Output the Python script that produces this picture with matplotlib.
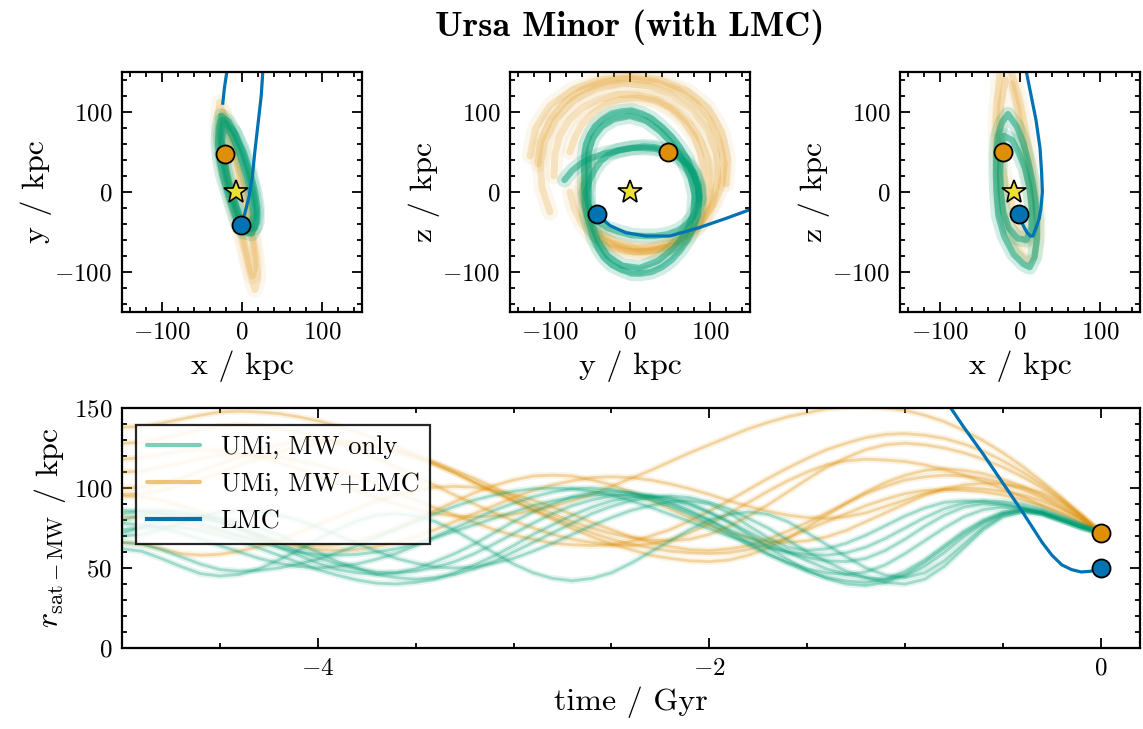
import numpy as np
import matplotlib
matplotlib.use('Agg')
import matplotlib.pyplot as plt
from matplotlib.ticker import MultipleLocator

plt.rcParams['font.family'] = 'serif'
plt.rcParams['font.serif'] = ['cmr10']
plt.rcParams['mathtext.fontset'] = 'cm'
plt.rcParams['axes.formatter.use_mathtext'] = True
plt.rcParams['axes.unicode_minus'] = True

C_MW = '#029e73'
C_LMC_RUN = '#de8f05'
C_LMC = '#0173b2'
C_SUN = '#ece133'

# ---- present-day positions (kpc) ----
umi_now = [-21, 47, 50]
lmc_now = [-1, -41, -28]
sun_pos = [-8.1, 0, 0]
umi_r_now = 72
lmc_r_now = 50

# ---- LMC past orbit (x, y, z) ----
lmc_x = [-1, 4, 9, 13, 16, 20, 24, 26, 28, 27, 25, 20, 14, 8, 3, -5, -12, -17, -19, -22, -24]
lmc_y = [-41, -25, -5, 20, 50, 85, 120, 150, 185, 215, 245, 275, 305, 335, 365, 400, 300, 200, 150, 130, 111]
lmc_z = [-28, -42, -51, -55, -55, -45, -33, -22, 0, 25, 55, 90, 120, 150, 180, 220, 240, 235, 225, 220, 215]

# ---- UMi orbit ensembles, x-y projection ----
xy_mw = [
    [(-26, 95), (-29, 80), (-30, 60), (-28, 40), (-24, 20), (-18, 0), (-12, -20), (-6, -38), (2, -50),
     (12, -52), (19, -38), (19, -18), (15, 5), (9, 28), (2, 50), (-8, 72), (-17, 88), (-26, 95)],
    [(-22, 85), (-25, 65), (-22, 40), (-17, 15), (-10, -10), (-2, -32), (8, -45), (15, -30), (12, -5),
     (6, 20), (-2, 45), (-12, 70), (-22, 85)],
    [(-24, 90), (-27, 70), (-25, 45), (-20, 20), (-13, -5), (-5, -30), (5, -47), (16, -45), (18, -25),
     (14, 0), (8, 25), (0, 50), (-10, 75), (-24, 90)],
]
xy_lmc = [
    [(-28, 112), (-30, 85), (-27, 55), (-22, 28), (-16, 3), (-9, -22), (-3, -47), (3, -72), (9, -97),
     (16, -122), (20, -108), (18, -82), (14, -57), (10, -32), (4, -7), (-3, 22), (-11, 52), (-19, 82), (-26, 105)],
    [(-24, 100), (-27, 75), (-24, 48), (-18, 22), (-11, -5), (-4, -32), (2, -58), (8, -85), (13, -105),
     (16, -92), (14, -68), (10, -42), (5, -15), (-1, 12), (-8, 42), (-15, 72), (-22, 96)],
]

# ---- y-z projection ----
yz_mw = [
    [(-57, 28), (-57, 45), (-55, 60), (-50, 72), (-44, 82), (-34, 91), (-23, 98), (-10, 101), (2, 102),
     (15, 98), (27, 92), (40, 81), (52, 69), (63, 55), (72, 40), (79, 24), (85, 7), (87, -10), (85, -27),
     (80, -44), (72, -60), (63, -73), (52, -85), (40, -94), (27, -100), (14, -102), (2, -102), (-11, -97),
     (-23, -91), (-33, -81), (-40, -70), (-46, -57), (-50, -43), (-54, -29), (-56, -14), (-57, 5), (-57, 28)],
    [(-55, -2), (-51, 14), (-44, 28), (-37, 38), (-28, 46), (-14, 52), (2, 55), (17, 57), (31, 56),
     (46, 52), (60, 46), (72, 35), (81, 23), (86, 8), (87, -6), (84, -19), (79, -31), (70, -41), (60, -48),
     (46, -53), (31, -55), (17, -55), (2, -54), (-13, -50), (-28, -45), (-38, -38), (-46, -29), (-52, -16),
     (-55, -2)],
    [(-52, 30), (-52, 50), (-46, 68), (-35, 82), (-20, 91), (0, 95), (20, 89), (38, 76), (53, 60),
     (66, 40), (76, 18), (81, -5), (79, -28), (70, -50), (55, -70), (35, -86), (12, -95), (-10, -92),
     (-28, -80), (-40, -62), (-48, -40), (-52, -15), (-52, 30)],
    [(-82, 15), (-72, 27), (-61, 36), (-47, 43), (-32, 48), (-15, 52), (2, 55), (17, 55), (31, 54),
     (47, 50), (62, 42), (73, 32), (80, 20), (85, 5), (86, -10)],
]
yz_lmc = [
    [(-115, 35), (-112, 62), (-100, 90), (-82, 112), (-60, 128), (-31, 138), (0, 142), (31, 138),
     (60, 128), (83, 111), (100, 90), (112, 63), (118, 35), (115, 10), (105, -15), (90, -37), (70, -55),
     (46, -68), (20, -75), (-6, -74), (-30, -68), (-47, -56), (-60, -40), (-70, -20), (-75, 0)],
    [(-95, 20), (-94, 46), (-88, 70), (-76, 90), (-60, 105), (-38, 116), (-15, 122), (10, 121), (35, 115),
     (57, 102), (75, 85), (89, 63), (98, 40), (101, 17), (100, -5), (94, -26), (85, -45), (69, -59),
     (50, -68), (28, -74), (5, -75), (-16, -69), (-35, -60), (-47, -46), (-55, -30), (-59, -12), (-60, 5),
     (-57, 23), (-52, 40)],
    [(-75, 50), (-69, 68), (-60, 85), (-46, 99), (-30, 110), (-10, 116), (10, 118), (31, 114), (50, 105),
     (67, 89), (80, 70), (88, 48), (92, 25), (92, 2), (88, -20), (80, -39), (68, -55), (52, -66), (35, -72),
     (15, -73), (-5, -70), (-23, -64), (-38, -55), (-49, -41), (-55, -25), (-58, -8), (-58, 10)],
    [(-100, -25), (-110, 5), (-112, 35), (-106, 65), (-92, 92), (-70, 115), (-42, 130), (-10, 136),
     (22, 133), (52, 122), (78, 103), (97, 78), (108, 48), (110, 15), (103, -15), (88, -40), (65, -58),
     (38, -68), (10, -70), (-15, -64), (-35, -52)],
    [(-125, 45), (-118, 80), (-100, 108), (-72, 128), (-38, 140), (0, 145), (38, 140), (72, 126),
     (98, 105), (115, 75), (122, 42), (120, 10)],
]

# ---- x-z projection ----
xz_mw = [
    [(-15, 97), (-22, 88), (-28, 70), (-30, 45), (-30, 20), (-29, -5), (-27, -30), (-20, -55), (-8, -78),
     (4, -90), (12, -94), (18, -82), (21, -60), (21, -35), (19, -10), (15, 15), (10, 40), (4, 62), (-4, 82), (-15, 97)],
    [(-20, 70), (-24, 50), (-25, 25), (-24, 0), (-21, -25), (-14, -45), (-3, -58), (8, -60), (14, -45),
     (15, -20), (12, 5), (6, 30), (-2, 50), (-10, 65), (-20, 70)],
]
xz_lmc = [
    [(-25, 150), (-28, 120), (-30, 90), (-30, 60), (-28, 30), (-25, 0), (-20, -30), (-12, -55), (0, -75),
     (10, -85), (18, -80), (22, -55), (22, -25), (18, 10), (12, 45), (6, 80), (0, 110), (-8, 140), (-12, 155)],
    [(-18, 140), (-24, 110), (-26, 80), (-25, 50), (-20, 20), (-12, -10), (-3, -40), (8, -62), (15, -55),
     (16, -30), (13, 0), (9, 35), (3, 70), (-3, 105), (-10, 135)],
]

# ---- galactocentric distance vs time (Gyr, kpc) ----
time = [-5.0, -4.9, -4.8, -4.7, -4.6, -4.5, -4.4, -4.3, -4.2, -4.1,
        -4.0, -3.9, -3.8, -3.7, -3.6, -3.5, -3.4, -3.3, -3.2, -3.1,
        -3.0, -2.9, -2.8, -2.7, -2.6, -2.5, -2.4, -2.3, -2.2, -2.1,
        -2.0, -1.9, -1.8, -1.7, -1.6, -1.5, -1.4, -1.3, -1.2, -1.1,
        -1.0, -0.9, -0.8, -0.7, -0.6, -0.5, -0.4, -0.3, -0.2, -0.1, 0.0]

r_mw = [
    [84, 85.5, 86, 85, 83, 79, 74, 69, 63, 58, 53, 49, 47, 46, 47, 49.5, 54, 59, 65, 72,
     79, 85, 90, 94.5, 97, 98, 97, 95, 91, 86, 80, 73, 66, 59, 53, 48, 44, 42, 41, 43,
     48, 55, 64, 73, 80, 85, 87, 85, 80, 75, 72],
    [72, 75.5, 79, 81, 82, 81, 79, 75, 71, 65, 60, 54, 50, 46, 44, 43, 44, 46, 49.5, 54,
     60, 66, 72, 78, 84, 88.5, 92, 94, 95, 94, 91, 87, 81, 75, 67.5, 60, 54, 48, 44, 41,
     40, 43, 51, 62.5, 74, 82, 85, 83.5, 79.5, 75.5, 72],
    [78, 77, 75, 72, 68, 64, 60, 56, 53, 51, 50, 51, 52.5, 55.5, 59, 64, 69.5, 75, 80.5, 86,
     90.5, 94.5, 97.5, 99.5, 100, 99, 97, 94, 90, 85, 80, 74, 69, 64, 60, 56.5, 54.5, 54, 56, 61,
     68, 76, 83, 88, 90, 89.5, 88, 85, 81, 76.5, 72],
    [62, 60.5, 56, 51, 46.5, 45, 46, 49.5, 55, 61, 68, 74, 79.5, 83, 84, 82.5, 79, 73.5, 66.5, 59.5,
     52.5, 47, 43.5, 42, 43.5, 47, 53, 60, 67, 74, 80, 83.5, 85, 83.5, 79, 72, 64.5, 57, 50, 45.5,
     44, 47, 54.5, 65, 75.5, 83, 86, 84.5, 80, 75.5, 72],
    [66, 65, 61.5, 57, 52.5, 49, 48, 48.5, 50, 52.5, 55.5, 59.5, 64, 69, 74, 79, 84, 88.5, 92.5, 95.5,
     98, 99.5, 100, 99.5, 98, 95.5, 92, 88, 83.5, 79, 74.5, 70, 66, 62.5, 60, 58.5, 58, 59.5, 63, 68.5,
     75, 81.5, 87, 90.5, 92, 91.5, 90, 87, 82.5, 77.5, 72],
    [74, 75, 76, 75.5, 73.5, 70.5, 67, 62.5, 58, 53.5, 49, 45.5, 42.5, 40.5, 40, 41, 43, 47, 52, 57.5,
     64, 71, 77, 83, 88, 92, 94, 95, 94, 90.5, 85, 78.5, 71, 63, 55.5, 48.5, 43.5, 40, 39, 41,
     46, 53.5, 62.5, 71.5, 79, 84, 86, 84.5, 80, 75.5, 72],
    [86, 85.5, 84, 81, 78, 74, 70, 66, 63, 60, 58.5, 58, 58.5, 60, 62, 65, 69, 73, 77, 81,
     85, 89, 92, 94, 95.5, 96, 95, 92.5, 88.5, 83.5, 77.5, 71, 64.5, 58.5, 53.5, 49.5, 47, 46, 47.5, 52,
     59, 67, 75, 82, 86.5, 88, 87, 84.5, 81, 76.5, 72],
    [70, 71, 74, 78, 82, 85, 86, 85.5, 83, 80, 75.5, 70.5, 65.5, 60.5, 56, 53, 50.5, 50, 50.5, 53,
     56, 60.5, 65.5, 71, 76.5, 81.5, 86, 89, 91.5, 92, 90, 84.5, 76.5, 69, 63, 61, 62, 65.5, 70.5, 76.5,
     82.5, 87.5, 91, 92, 91.5, 90, 87.5, 84, 80, 76, 72],
    [80, 83, 84, 83.5, 81.5, 78.5, 75, 70.5, 65.5, 60.5, 56.5, 52.5, 49.5, 47.5, 47, 48, 50.5, 54, 59, 65,
     71.5, 78, 84, 89, 92.5, 95, 96, 95, 93, 89.5, 84.5, 79, 72.5, 66.5, 60, 54.5, 49.5, 46, 44, 43,
     45, 51, 59.5, 69.5, 78, 84, 86, 84.5, 80, 75.5, 72],
]

r_lmc_run = [
    [138, 138.5, 140.5, 143, 145.5, 147.5, 148, 147.5, 146.5, 144.5, 142, 139, 135, 130.5, 126, 120.5, 115, 109.5, 103.5, 97.5,
     92, 86.5, 81.5, 76.5, 72, 68, 65, 62.5, 60.5, 59.5, 59, 59.5, 61.5, 65, 69, 74, 79, 84, 89, 93,
     96.5, 98.5, 99, 98.5, 97.5, 95.5, 92.5, 89, 84.5, 78.5, 72],
    [100, 100.5, 103, 106, 110.5, 115, 119.5, 124, 127, 129.5, 130, 129.5, 128, 126, 122.5, 119, 114.5, 109.5, 103.5, 98,
     92, 86, 80.5, 74.5, 69.5, 65, 61.5, 58, 56, 54.5, 54, 55, 58, 62.5, 68.5, 75.5, 83, 90.5, 97.5, 103.5,
     108, 111, 112, 111, 109, 105.5, 101, 95.5, 89, 81, 72],
    [96, 96.5, 98.5, 101.5, 105.5, 109.5, 114.5, 118.5, 122.5, 125.5, 127.5, 128, 127.5, 126, 123.5, 120, 116, 111, 106, 100.5,
     94.5, 89, 84, 79, 75, 71.5, 69, 67.5, 67, 68, 71, 76, 82.5, 89.5, 97.5, 105.5, 113, 119, 124, 127,
     128, 127, 125, 122, 118, 113, 107, 100, 92, 82.5, 72],
    [118, 119, 121, 123, 124, 123.5, 122, 119.5, 116, 112, 107.5, 103, 98.5, 94, 90, 86.5, 84, 82.5, 82, 82.5,
     83.5, 86, 88.5, 92, 96, 101, 106, 111, 116.5, 122, 127, 132, 137, 141, 144.5, 147, 149.5, 150.5, 151, 150,
     148.5, 145.5, 141.5, 136, 129.5, 122, 113.5, 104, 94, 83, 72],
    [66, 65, 62, 59, 58, 58.5, 60.5, 63.5, 67, 72, 77, 82, 87, 92, 95.5, 98.5, 100.5, 101, 100.5, 98.5,
     96, 92.5, 88, 83.5, 78.5, 74, 69.5, 66, 63.5, 61.5, 61, 62, 64, 68, 73, 78.5, 84.5, 90.5, 96.5, 101,
     105, 107, 108, 107.5, 106, 103, 99, 94, 87.5, 80.5, 72],
    [95, 94.5, 92.5, 89, 85, 80.5, 75.5, 71, 67, 63.5, 61.5, 61, 61.5, 63.5, 66, 69.5, 74, 79, 84, 89,
     94, 98.5, 102, 104.5, 106.5, 107, 106.5, 105, 102.5, 99.5, 96, 92, 88.5, 85.5, 83, 81.5, 81, 82, 84.5, 88.5,
     92.5, 96.5, 99, 100, 99.5, 98, 95.5, 92, 87, 80.5, 72],
    [110, 110.5, 113, 115.5, 118.5, 120.5, 121, 120.5, 119.5, 117, 114.5, 111, 107, 102.5, 97.5, 92.5, 87.5, 83, 78.5, 74,
     70.5, 68, 65.5, 64.5, 64, 64.5, 66.5, 70, 74, 79.5, 85.5, 92, 99, 106, 112.5, 118.5, 124, 128, 131.5, 133.5,
     134, 133, 131, 127.5, 123, 117, 110, 102, 93, 83, 72],
    [128, 128.5, 131, 133.5, 136.5, 138.5, 139, 138.5, 137, 135, 132, 128, 123.5, 118.5, 113, 107.5, 101.5, 95.5, 90, 84.5,
     79.5, 75, 71, 68, 66, 64.5, 64, 65, 67.5, 72, 77.5, 84, 91, 98, 104.5, 110, 114.5, 117, 118, 117.5,
     116.5, 114.5, 111.5, 108, 104, 99.5, 94.5, 89, 83.5, 78, 72],
    [82, 81.5, 80.5, 78.5, 76, 73, 70, 67.5, 65.5, 64.5, 64, 64.5, 67, 70.5, 75, 80.5, 86, 91.5, 97, 101.5,
     105, 107.5, 108, 107.5, 105, 102, 97.5, 92.5, 87, 81.5, 76.5, 72, 69, 66.5, 66, 67, 69.5, 73.5, 79, 84.5,
     90, 95.5, 99.5, 102, 103, 102.5, 100.5, 97, 91, 82.5, 72],
]

t_lmc = [-0.8, -0.7, -0.6, -0.5, -0.4, -0.3, -0.25, -0.2, -0.15, -0.1, -0.05, 0.0]
r_lmc = [156, 138, 121, 103, 85, 66, 58, 52, 49, 47.5, 48, 50]


def style_axes(ax, xmaj, xmin, ymaj, ymin):
    ax.xaxis.set_major_locator(MultipleLocator(xmaj))
    ax.xaxis.set_minor_locator(MultipleLocator(xmin))
    ax.yaxis.set_major_locator(MultipleLocator(ymaj))
    ax.yaxis.set_minor_locator(MultipleLocator(ymin))
    ax.tick_params(which='both', direction='in', top=True, right=True, width=1.3, labelsize=18)
    ax.tick_params(which='major', length=7, pad=7)
    ax.tick_params(which='minor', length=3.5)
    for s in ax.spines.values():
        s.set_linewidth(1.6)


def soft_line(ax, x, y, color, alpha, lw, **kw):
    # a wide faint stroke under a narrower one gives the blurred ensemble look
    ax.plot(x, y, color=color, alpha=alpha * 0.35, lw=lw * 2.4,
            solid_joinstyle='round', solid_capstyle='round')
    return ax.plot(x, y, color=color, alpha=alpha, lw=lw,
                   solid_joinstyle='round', solid_capstyle='round', **kw)


def draw_loops(ax, loops, color, alpha, lw):
    for loop in loops:
        a = np.array(loop)
        soft_line(ax, a[:, 0], a[:, 1], color, alpha, lw)


fig = plt.figure(figsize=(11.43, 7.29), dpi=100)
W, H = 1143, 729
def px_axes(l, t, w, h):
    return fig.add_axes([l / W, 1 - (t + h) / H, w / W, h / H])

panels = [
    (px_axes(122, 72, 240, 240), xy_mw, xy_lmc, (0, 1), 'x / kpc', 'y / kpc'),
    (px_axes(510, 72, 240, 240), yz_mw, yz_lmc, (1, 2), 'y / kpc', 'z / kpc'),
    (px_axes(900, 72, 240, 240), xz_mw, xz_lmc, (0, 2), 'x / kpc', 'z / kpc'),
]
lmc_orbit = [lmc_x, lmc_y, lmc_z]

for ax, mw_loops, lmc_loops, (i, j), xl, yl in panels:
    draw_loops(ax, lmc_loops, C_LMC_RUN, 0.2, 5)
    draw_loops(ax, mw_loops, C_MW, 0.5, 4.5)
    ax.plot(lmc_orbit[i], lmc_orbit[j], color=C_LMC, lw=2.3)
    ax.plot(umi_now[i], umi_now[j], 'o', ms=13, mfc=C_LMC_RUN, mec='k', mew=1.3, zorder=5)
    ax.plot(lmc_now[i], lmc_now[j], 'o', ms=13, mfc=C_LMC, mec='k', mew=1.3, zorder=5)
    ax.plot(sun_pos[i], sun_pos[j], '*', ms=18, mfc=C_SUN, mec='k', mew=1.2, zorder=6)
    ax.set_xlim(-150, 150)
    ax.set_ylim(-150, 150)
    style_axes(ax, 100, 20, 100, 20)
    ax.set_xlabel(xl, fontsize=23, labelpad=5)
    ax.set_ylabel(yl, fontsize=23, labelpad=2)

fig.text(630 / W, 1 - 27 / H, 'Ursa Minor (with LMC)', ha='center', va='center',
         fontsize=26, family='cmb10')

# ---- bottom panel: distance from the MW ----
ax = px_axes(122, 408, 1018, 240)
for k, r in enumerate(r_lmc_run):
    soft_line(ax, time, r, C_LMC_RUN, 0.3, 2.0,
              label='UMi, MW+LMC' if k == 0 else None)
for k, r in enumerate(r_mw):
    soft_line(ax, time, r, C_MW, 0.3, 2.0,
              label='UMi, MW only' if k == 0 else None)
ax.plot(t_lmc, r_lmc, color=C_LMC, lw=2.3, label='LMC')
ax.plot(0, umi_r_now, 'o', ms=13, mfc=C_LMC_RUN, mec='k', mew=1.3, zorder=5)
ax.plot(0, lmc_r_now, 'o', ms=13, mfc=C_LMC, mec='k', mew=1.3, zorder=5)
ax.set_xlim(-5, 0.2)
ax.set_ylim(0, 150)
style_axes(ax, 2, 0.5, 50, 10)
ax.set_xlabel('time / Gyr', fontsize=23, labelpad=5)
ax.set_ylabel(r'$r_{\rm sat-MW}$ / kpc', fontsize=23, labelpad=4)

h, l = ax.get_legend_handles_labels()
order = [1, 0, 2]
leg = ax.legend([h[k] for k in order], [l[k] for k in order], loc='upper left',
                bbox_to_anchor=(0.014, 0.93), borderaxespad=0, fontsize=19,
                fancybox=False, edgecolor='k', framealpha=0.85)
leg.get_frame().set_linewidth(1.6)
for lh in leg.get_lines():
    lh.set_linewidth(3)
    if lh.get_color() != C_LMC:
        lh.set_alpha(0.5)

fig.savefig('out.png', dpi=100)
